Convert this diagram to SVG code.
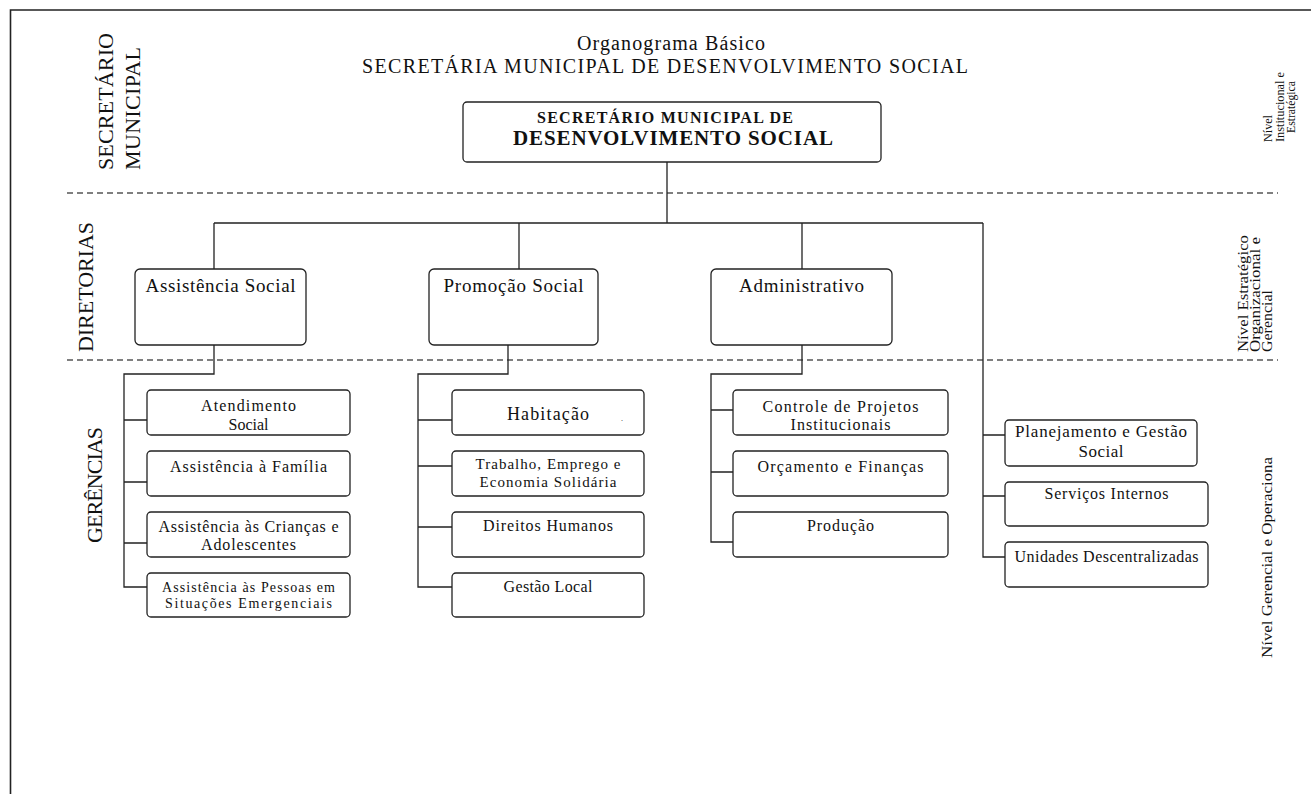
<svg xmlns="http://www.w3.org/2000/svg" width="1311" height="794" viewBox="0 0 1311 794">
  <style>
    text { font-family: "Liberation Serif", "Times New Roman", serif; fill: #111; }
    .box { fill: #fff; stroke: #222; stroke-width: 1.3; }
    .wire { fill: none; stroke: #222; stroke-width: 1.3; }
    .band { fill: none; stroke: #555; stroke-width: 1.3; stroke-dasharray: 6 4; }
    .frame { fill: none; stroke: #222; stroke-width: 1.6; }
    .c { text-anchor: middle; }
    .dir { font-size: 19px; }
    .ger { font-size: 16px; }
    .side { font-size: 22px; }
    .lvl { font-size: 15px; }
  </style>

  <!-- page frame (top and left edges) -->
  <path class="frame" d="M10.5 794 V10 H1311"/>

  <!-- title -->
  <g id="title">
    <text class="c" x="671" y="50" font-size="20" textLength="188">Organograma Básico</text>
    <text class="c" x="665" y="73" font-size="20" textLength="606">SECRETÁRIA MUNICIPAL DE DESENVOLVIMENTO SOCIAL</text>
  </g>

  <!-- level bands -->
  <g id="bands">
    <line class="band" x1="67" y1="193" x2="1278" y2="193"/>
    <line class="band" x1="67" y1="360" x2="1278" y2="360"/>
  </g>

  <!-- side captions, left -->
  <g id="side-left">
    <text class="side" transform="translate(113,170) rotate(-90)" textLength="137">SECRETÁRIO</text>
    <text class="side" transform="translate(140,170) rotate(-90)" textLength="123">MUNICIPAL</text>
    <text class="side" transform="translate(93,352) rotate(-90)" textLength="130">DIRETORIAS</text>
    <text class="side" transform="translate(102,543) rotate(-90)" textLength="116">GERÊNCIAS</text>
  </g>

  <!-- side captions, right -->
  <g id="side-right">
    <text font-size="13.5" transform="translate(1272,142) rotate(-90)" textLength="27" lengthAdjust="spacingAndGlyphs">Nível</text>
    <text font-size="13.5" transform="translate(1284,142) rotate(-90)" textLength="70" lengthAdjust="spacingAndGlyphs">Institucional e</text>
    <text class="c" font-size="13.5" transform="translate(1295,107) rotate(-90)" textLength="52" lengthAdjust="spacingAndGlyphs">Estratégica</text>
    <text class="lvl" transform="translate(1248,352) rotate(-90)" textLength="117" lengthAdjust="spacingAndGlyphs">Nível Estratégico</text>
    <text class="lvl" transform="translate(1260,352) rotate(-90)" textLength="115" lengthAdjust="spacingAndGlyphs">Organizacional e</text>
    <text class="lvl" transform="translate(1272,352) rotate(-90)" textLength="62" lengthAdjust="spacingAndGlyphs">Gerencial</text>
    <text class="lvl" transform="translate(1272,658) rotate(-90)" textLength="201" lengthAdjust="spacingAndGlyphs">Nível Gerencial e Operaciona</text>
  </g>

  <!-- connectors -->
  <g id="connectors">
    <path class="wire" d="M667 162 V223 M214 223 H983 M214 223 V269 M519 223 V269 M802 223 V269"/>
    <!-- Assistência Social branch -->
    <path class="wire" d="M214 345 V374 H124 V587 H147 M124 420 H147 M124 482 H147 M124 543 H147"/>
    <!-- Promoção Social branch -->
    <path class="wire" d="M508 345 V374 H418 V587 H452 M418 420 H452 M418 466 H452 M418 527 H452"/>
    <!-- Administrativo branch -->
    <path class="wire" d="M802 345 V374 H711 V542 H733 M711 410 H733 M711 472 H733"/>
    <!-- units reporting straight to the secretary -->
    <path class="wire" d="M983 223 V557 H1005 M983 435 H1005 M983 496 H1005"/>
  </g>

  <!-- secretary -->
  <g id="secretario">
    <rect class="box" x="463" y="102" width="418" height="60" rx="4"/>
    <text class="c" x="665" y="123" font-size="16" font-weight="bold" textLength="256">SECRETÁRIO MUNICIPAL DE</text>
    <text class="c" x="673" y="145" font-size="21" font-weight="bold" textLength="320">DESENVOLVIMENTO SOCIAL</text>
  </g>

  <!-- directorates -->
  <g id="dir-assistencia">
    <rect class="box" x="135" y="269" width="171" height="76" rx="5"/>
    <text class="dir c" x="220.5" y="292" textLength="150">Assistência Social</text>
  </g>
  <g id="dir-promocao">
    <rect class="box" x="429" y="269" width="169" height="76" rx="5"/>
    <text class="dir c" x="513.5" y="292" textLength="140">Promoção Social</text>
  </g>
  <g id="dir-administrativo">
    <rect class="box" x="711" y="269" width="181" height="76" rx="5"/>
    <text class="dir c" x="801.5" y="292" textLength="125">Administrativo</text>
  </g>

  <!-- Assistência Social units -->
  <g id="ger-atendimento">
    <rect class="box" x="147" y="390" width="203" height="45" rx="4"/>
    <text class="ger c" x="248.5" y="411" textLength="95">Atendimento</text>
    <text class="ger c" x="248.5" y="430">Social</text>
  </g>
  <g id="ger-familia">
    <rect class="box" x="147" y="451" width="203" height="45" rx="4"/>
    <text class="ger c" x="248.5" y="472" textLength="157">Assistência à Família</text>
  </g>
  <g id="ger-criancas">
    <rect class="box" x="147" y="512" width="203" height="45" rx="4"/>
    <text class="ger c" x="248.5" y="532" textLength="180">Assistência às Crianças e</text>
    <text class="ger c" x="248.5" y="550" textLength="95">Adolescentes</text>
  </g>
  <g id="ger-emergencias">
    <rect class="box" x="147" y="573" width="203" height="44" rx="4"/>
    <text class="c" x="248.5" y="592" font-size="14" textLength="173">Assistência às Pessoas em</text>
    <text class="c" x="248.5" y="608" font-size="14" textLength="167">Situações Emergenciais</text>
  </g>

  <!-- Promoção Social units -->
  <g id="ger-habitacao">
    <rect class="box" x="452" y="390" width="192" height="45" rx="4"/>
    <text class="c" x="548" y="420" font-size="18" textLength="82">Habitação</text>
    <text x="621" y="421" font-size="8">.</text>
  </g>
  <g id="ger-trabalho">
    <rect class="box" x="452" y="451" width="192" height="45" rx="4"/>
    <text class="c" x="548" y="469" font-size="15" textLength="145">Trabalho, Emprego e</text>
    <text class="c" x="548" y="487" font-size="15" textLength="137">Economia Solidária</text>
  </g>
  <g id="ger-direitos">
    <rect class="box" x="452" y="512" width="192" height="45" rx="4"/>
    <text class="ger c" x="548" y="531" textLength="130">Direitos Humanos</text>
  </g>
  <g id="ger-gestao-local">
    <rect class="box" x="452" y="573" width="192" height="44" rx="4"/>
    <text class="ger c" x="548" y="592" textLength="89">Gestão Local</text>
  </g>

  <!-- Administrativo units -->
  <g id="ger-projetos">
    <rect class="box" x="733" y="390" width="215" height="45" rx="4"/>
    <text class="ger c" x="840.5" y="412" textLength="156">Controle de Projetos</text>
    <text class="ger c" x="840.5" y="430" textLength="100">Institucionais</text>
  </g>
  <g id="ger-orcamento">
    <rect class="box" x="733" y="451" width="215" height="45" rx="4"/>
    <text class="ger c" x="840.5" y="472" textLength="166">Orçamento e Finanças</text>
  </g>
  <g id="ger-producao">
    <rect class="box" x="733" y="512" width="215" height="45" rx="4"/>
    <text class="ger c" x="840.5" y="531" textLength="67">Produção</text>
  </g>

  <!-- units under the secretary -->
  <g id="ger-planejamento">
    <rect class="box" x="1005" y="420" width="192" height="46" rx="4"/>
    <text class="c" x="1101" y="437" font-size="17" textLength="172">Planejamento e Gestão</text>
    <text class="c" x="1101" y="457" font-size="17" textLength="45">Social</text>
  </g>
  <g id="ger-servicos">
    <rect class="box" x="1005" y="482" width="203" height="44" rx="4"/>
    <text class="ger c" x="1106.5" y="499" textLength="124">Serviços Internos</text>
  </g>
  <g id="ger-unidades">
    <rect class="box" x="1005" y="542" width="203" height="45" rx="4"/>
    <text class="ger c" x="1106.5" y="562" textLength="184">Unidades Descentralizadas</text>
  </g>
</svg>
